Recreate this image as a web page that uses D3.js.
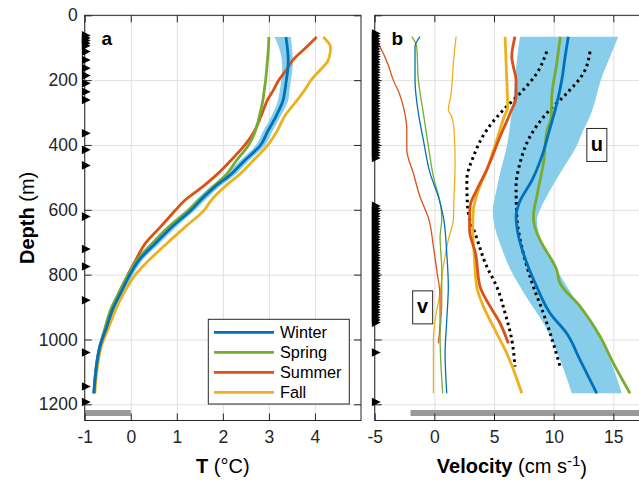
<!DOCTYPE html>
<html><head><meta charset="utf-8">
<script src="https://cdn.jsdelivr.net/npm/d3@7"></script>
<style>
html,body{margin:0;padding:0;background:#fff;}
svg{display:block;font-family:"Liberation Sans",Arial,Helvetica,sans-serif;}
</style></head><body>
<svg id="chart" width="639" height="480"></svg>
<script>
// ---------------- DATA ----------------
const seasons = ["Winter","Spring","Summer","Fall"];
const seasonColors = ["#0072BD","#77AC30","#D95319","#EDB120"];
const depthTicks = [0,200,400,600,800,1000,1200];
const tempTicks = [-1,0,1,2,3,4];
const velTicks = [-5,0,5,10,15];

// Panel a: temperature profiles (depth m, T degC)
const tempDepth = [67,100,138,168,199,230,261,307,359,400,451,490,530,570,600,652,703,755,806,857,909,960,1022,1166];
const tWinter   = [3.37,3.40,3.42,3.41,3.38,3.35,3.31,3.17,2.97,2.82,2.45,2.18,1.82,1.52,1.32,0.90,0.54,0.18,-0.04,-0.22,-0.40,-0.52,-0.67,-0.80];
const tWinterLo = [3.12,3.22,3.28,3.29,3.27,3.24,3.20,3.07,2.87,2.72,2.35,2.08,1.72,1.42,1.23,0.81,0.45,0.10,-0.11,-0.28,-0.45,-0.56,-0.71,-0.83];
const tWinterHi = [3.48,3.50,3.52,3.51,3.48,3.45,3.42,3.27,3.07,2.92,2.55,2.28,1.92,1.62,1.41,0.99,0.63,0.26,0.03,-0.16,-0.35,-0.48,-0.63,-0.77];
const tSpring   = [3.00,2.99,2.97,2.95,2.93,2.90,2.87,2.80,2.70,2.56,2.28,2.08,1.78,1.48,1.26,0.83,0.47,0.14,-0.08,-0.26,-0.44,-0.55,-0.67,-0.80];
const tSummer   = [4.04,3.80,3.52,3.38,3.22,3.10,2.97,2.84,2.68,2.48,2.15,1.88,1.55,1.18,0.98,0.65,0.32,0.11,-0.08,-0.26,-0.40,-0.52,-0.67,-0.80];
const tFall     = [4.18,4.34,4.29,4.12,3.92,3.78,3.62,3.36,3.17,2.98,2.64,2.37,2.03,1.75,1.60,1.19,0.79,0.40,0.07,-0.15,-0.33,-0.47,-0.64,-0.78];

// Instrument depths (panel a: T sensors; panel b: ADCP bins + current meters)
const sensorDepthsA = [62,70,78,86,94,112,138,163,186,210,236,261,364,415,463,621,721,775,879,1040,1145,1193];
const adcpBinsUpper = [56,64,72,80,88,96,104,112,120,128,136,144,152,160,168,176,184,192,200,208,216,224,232,240,248,256,264,272,280,288,296,304,312,320,328,336,344,352,360,368,376,384,392,400,408,416,424,432,440];
const adcpBinsLower = [588,596,604,612,620,628,636,644,652,660,668,676,684,692,700,708,716,724,732,740,748,756,764,772,780,788,796,804,812,820,828,836,844,852,860,868,876,884,892,900,908,916,924,932,940,948];
const currentMeterDepths = [1040,1193];

// Panel b: velocity profiles [depth m, cm/s]
const uWinter = [[66,11.23],[128,10.96],[200,10.68],[282,10.2],[354,9.65],[436,9.0],[508,8.2],[580,7.1],[621,6.85],[672,7.0],[734,7.46],[837,8.58],[919,9.70],[981,11.09],[1063,12.21],[1166,13.61]];
const uWinterBandDepth = [66,128,200,282,323,354,405,487,549,600,631,714,786,868,960,1063,1166];
const uWinterLo = [7.18,6.95,6.76,6.55,6.4,6.3,6.07,5.51,5.15,4.9,4.95,5.6,6.4,7.7,9.3,10.54,11.52];
const uWinterHi = [15.42,14.73,13.95,13.33,12.91,12.49,11.9,10.54,9.56,8.86,8.6,9.14,10.26,11.65,13.33,14.73,15.71];
const uSpring = [[66,10.56],[148,10.26],[251,9.84],[313,9.80],[354,9.45],[456,9.14],[560,8.58],[621,8.30],[650,8.40],[693,8.86],[786,10.26],[827,10.54],[898,12.21],[991,13.89],[1073,15.0],[1166,16.40]];
const uSummer = [[66,6.76],[128,6.49],[158,6.62],[200,6.85],[251,6.85],[302,6.35],[374,5.51],[477,4.39],[539,3.55],[590,2.99],[631,2.95],[662,2.95],[734,3.45],[837,3.83],[898,4.67],[950,5.51],[1012,6.20]];
const uFall = [[66,5.93],[200,6.07],[282,6.15],[313,5.85],[385,5.23],[477,4.39],[549,3.6],[600,3.27],[662,3.22],[734,3.33],[837,3.55],[898,4.11],[981,5.23],[1043,6.07],[1166,7.33]];
const vWinter = [[66,-1.20],[97,-1.62],[200,-1.62],[302,-1.34],[385,-0.92],[487,-0.36],[560,0.34],[621,0.75],[734,1.04],[837,1.17],[940,1.04],[1043,0.90],[1166,1.04]];
const vSpring = [[66,-1.89],[97,-1.48],[200,-1.34],[302,-0.92],[405,-0.50],[498,-0.08],[590,0.55],[631,0.62],[683,0.48],[786,0.62],[888,0.62],[991,0.48],[1166,0.70]];
const vSummer = [[70,-4.95],[97,-4.55],[150,-3.9],[200,-3.44],[240,-2.95],[282,-2.60],[354,-2.31],[415,-2.31],[487,-1.76],[560,-1.20],[631,-0.45],[714,-0.08],[786,0.20],[868,0.48],[940,0.48],[1012,0.34]];
const vFall = [[66,1.82],[148,1.59],[251,1.37],[292,1.17],[313,1.46],[354,1.65],[456,1.74],[560,1.65],[631,1.59],[693,1.17],[775,0.75],[857,0.48],[940,0.06],[1001,-0.08],[1166,-0.08]];
const dotLeft = [[112,9.42],[179,8.58],[241,7.18],[292,5.78],[354,4.39],[436,3.27],[508,2.72],[580,2.77],[620,2.9],[672,3.41],[775,4.39],[837,5.23],[919,5.93],[1001,6.49],[1084,6.76]];
const dotRight = [[112,13.05],[179,12.49],[241,11.09],[302,9.42],[374,8.02],[456,7.18],[529,6.85],[621,6.91],[734,7.46],[837,8.30],[919,9.14],[1012,9.97],[1084,10.54]];

// bottom bars
const barDepth = 1227;
const barA = [-1,0];
const barB = [-2,18];

// ---------------- LAYOUT ----------------
const yTop = 15.3, yBot = 420.5;
const aLeft = 84.7, aRight = 361, bLeft = 374.7, bRight = 649.1;
const svg = d3.select("#chart");
const y = d3.scaleLinear().domain([0,1250]).range([yTop,yBot]);
const xa = d3.scaleLinear().domain([-1,5]).range([aLeft,aRight]);
const xb = d3.scaleLinear().domain([-5,18]).range([bLeft,bRight]);
const axisCol = "#262626", gridCol = "#e0e0e0";
const fmt = d => String(d);

function grid(x, ticks){
  const g = svg.append("g");
  g.append("g").attr("transform",`translate(0,${yBot})`)
    .call(d3.axisBottom(x).tickValues(ticks).tickSize(-(yBot-yTop)).tickFormat(""))
    .call(s=>{s.select(".domain").remove(); s.selectAll("line").attr("stroke",gridCol);});
  g.append("g").attr("transform",`translate(${x.range()[0]},0)`)
    .call(d3.axisLeft(y).tickValues(depthTicks).tickSize(-(x.range()[1]-x.range()[0])).tickFormat(""))
    .call(s=>{s.select(".domain").remove(); s.selectAll("line").attr("stroke",gridCol);});
}
function frame(x, ticks, yLabels){
  const [l,r] = x.range();
  const g = svg.append("g");
  g.append("rect").attr("x",l).attr("y",yTop).attr("width",r-l).attr("height",yBot-yTop)
    .attr("fill","none").attr("stroke",axisCol).attr("stroke-width",1);
  const style = s=>{s.select(".domain").remove(); s.selectAll("line").attr("stroke",axisCol);};
  g.append("g").attr("transform",`translate(0,${yBot})`).call(d3.axisBottom(x).tickValues(ticks).tickSizeInner(-7).tickSizeOuter(0).tickFormat("")).call(style);
  g.append("g").attr("transform",`translate(0,${yTop})`).call(d3.axisTop(x).tickValues(ticks).tickSizeInner(-7).tickSizeOuter(0).tickFormat("")).call(style);
  g.append("g").attr("transform",`translate(${l},0)`).call(d3.axisLeft(y).tickValues(depthTicks).tickSizeInner(-7).tickSizeOuter(0).tickFormat("")).call(style);
  g.append("g").attr("transform",`translate(${r},0)`).call(d3.axisRight(y).tickValues(depthTicks).tickSizeInner(-7).tickSizeOuter(0).tickFormat("")).call(style);
  // labels
  g.append("g").attr("transform",`translate(0,${yBot})`)
    .call(d3.axisBottom(x).tickValues(ticks).tickSize(0).tickPadding(10).tickFormat(fmt))
    .call(s=>{s.select(".domain").remove(); s.attr("font-size",null).attr("font-family",null);
      s.selectAll("text").attr("fill",axisCol).style("font-size","17.5px");});
  if(yLabels){
    g.append("g").attr("transform",`translate(${l},0)`)
      .call(d3.axisLeft(y).tickValues(depthTicks).tickSize(0).tickPadding(7).tickFormat(fmt))
      .call(s=>{s.select(".domain").remove(); s.attr("font-size",null).attr("font-family",null);
        s.selectAll("text").attr("fill",axisCol).style("font-size","17.5px");});
  }
}
const tri = "M-4.3,-4.3L4.5,0L-4.3,4.3Z";
function markers(x, depths){
  svg.append("g").selectAll("path").data(depths).join("path")
    .attr("d",tri).attr("fill","#000")
    .attr("transform",d=>`translate(${x.range()[0]+1.5},${y(d)})`);
}

// ---------------- PANEL A ----------------
grid(xa, tempTicks);
const bandA = tempDepth.map((d,i)=>({d,lo:tWinterLo[i],hi:tWinterHi[i]}));
svg.append("path").datum(bandA)
  .attr("d",d3.area().y(p=>y(p.d)).x0(p=>xa(p.lo)).x1(p=>xa(p.hi)).curve(d3.curveMonotoneY))
  .attr("fill","#88CDEA").attr("stroke","none");
const tSeries = [tWinter,tSpring,tSummer,tFall];
const lineA = d3.line().y((v,i)=>y(tempDepth[i])).x(v=>xa(v)).curve(d3.curveMonotoneY);
[3,2,1,0].forEach(k=>{
  svg.append("path").datum(tSeries[k]).attr("d",lineA)
    .attr("fill","none").attr("stroke",seasonColors[k]).attr("stroke-width",2.8).attr("stroke-linejoin","round");
});
svg.append("line").attr("x1",xa(barA[0])).attr("x2",xa(barA[1])).attr("y1",y(barDepth)).attr("y2",y(barDepth))
  .attr("stroke","#999").attr("stroke-width",6);
frame(xa, tempTicks, true);
markers(xa, sensorDepthsA);

// legend
const lg = svg.append("g");
lg.append("rect").attr("x",208.3).attr("y",319.3).attr("width",141).attr("height",84.7)
  .attr("fill","#fff").attr("stroke",axisCol).attr("stroke-width",1);
seasons.forEach((s,i)=>{
  const yy = 332.3 + i*20;
  lg.append("line").attr("x1",214).attr("x2",274).attr("y1",yy).attr("y2",yy)
    .attr("stroke",seasonColors[i]).attr("stroke-width",2.8);
  lg.append("text").attr("x",280).attr("y",yy).attr("dy","0.35em").text(s)
    .style("font-size","16.3px").attr("fill","#000");
});
svg.append("text").attr("x",101.5).attr("y",45).text("a").style("font-size","19px").style("font-weight","bold");

// ---------------- PANEL B ----------------
grid(xb, velTicks);
const bandB = uWinterBandDepth.map((d,i)=>({d,lo:uWinterLo[i],hi:uWinterHi[i]}));
svg.append("path").datum(bandB)
  .attr("d",d3.area().y(p=>y(p.d)).x0(p=>xb(p.lo)).x1(p=>xb(p.hi)).curve(d3.curveMonotoneY))
  .attr("fill","#88CDEA").attr("stroke","none");
const lineB = d3.line().y(p=>y(p[0])).x(p=>xb(p[1])).curve(d3.curveMonotoneY);
const vSeries = [vWinter,vSpring,vSummer,vFall];
[3,2,1,0].forEach(k=>{
  svg.append("path").datum(vSeries[k]).attr("d",lineB)
    .attr("fill","none").attr("stroke",seasonColors[k]).attr("stroke-width",1.3);
});
[dotLeft,dotRight].forEach(s=>{
  svg.append("path").datum(s).attr("d",lineB).attr("fill","none").attr("stroke","#000")
    .attr("stroke-width",3).attr("stroke-dasharray","2.6,3.6");
});
const uSeries = [uWinter,uSpring,uSummer,uFall];
[3,2,1,0].forEach(k=>{
  svg.append("path").datum(uSeries[k]).attr("d",lineB)
    .attr("fill","none").attr("stroke",seasonColors[k]).attr("stroke-width",2.8).attr("stroke-linejoin","round");
});
svg.append("line").attr("x1",xb(barB[0])).attr("x2",xb(barB[1])).attr("y1",y(barDepth)).attr("y2",y(barDepth))
  .attr("stroke","#999").attr("stroke-width",6);
frame(xb, velTicks, false);
markers(xb, adcpBinsUpper.concat(adcpBinsLower, currentMeterDepths));
svg.append("text").attr("x",391.5).attr("y",45).text("b").style("font-size","19px").style("font-weight","bold");

// u / v labels
function boxLabel(txt, xv, dv){
  const g = svg.append("g");
  const cx = xb(xv), cy = y(dv);
  g.append("rect").attr("x",cx-10).attr("y",cy-16.5).attr("width",20).attr("height",33)
    .attr("fill","#fff").attr("stroke",axisCol).attr("stroke-width",1);
  g.append("text").attr("x",cx).attr("y",cy).attr("dy","0.3em").attr("text-anchor","middle")
    .text(txt).style("font-size","20px").style("font-weight","bold");
}
boxLabel("u", 13.62, 400);
boxLabel("v", -0.98, 901);

// ---------------- AXIS TITLES ----------------
svg.append("text").attr("transform",`translate(27,${(yTop+yBot)/2}) rotate(-90)`)
  .attr("text-anchor","middle").attr("dy","0.35em").style("font-size","20px").attr("fill","#000")
  .call(t=>{t.append("tspan").style("font-weight","bold").text("Depth"); t.append("tspan").text(" (m)");});
svg.append("text").attr("x",(aLeft+aRight)/2).attr("y",466).attr("dy","0.35em").attr("text-anchor","middle")
  .style("font-size","20px").attr("fill","#000")
  .call(t=>{t.append("tspan").style("font-weight","bold").text("T"); t.append("tspan").text(" (°C)");});
svg.append("text").attr("x",(bLeft+bRight)/2).attr("y",466).attr("dy","0.35em").attr("text-anchor","middle")
  .style("font-size","20px").attr("fill","#000")
  .call(t=>{t.append("tspan").style("font-weight","bold").text("Velocity");
    t.append("tspan").text(" (cm s");
    t.append("tspan").attr("dy","-0.45em").style("font-size","15px").text("-1");
    t.append("tspan").attr("dy","0.45em").text(")");});
</script>
</body></html>
